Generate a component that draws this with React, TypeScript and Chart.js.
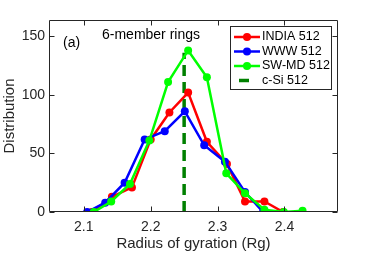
import React, { useEffect, useRef } from "react";
import { Chart, registerables } from "chart.js";
Chart.register(...registerables);

const xTicks = [2.1, 2.2, 2.3, 2.4];
const yTicks = [0, 50, 100, 150];

const indiaX = [2.112, 2.142, 2.172, 2.2, 2.228, 2.256, 2.284, 2.314, 2.341, 2.37, 2.398];
const indiaY = [0, 13, 21, 62, 85, 102, 60, 41, 9, 9, 0];
const wwwX = [2.105, 2.132, 2.161, 2.191, 2.221, 2.251, 2.28, 2.311, 2.341, 2.368];
const wwwY = [0, 8, 25, 62, 69, 86, 57, 43, 17, 0];
const swmdX = [2.115, 2.141, 2.169, 2.198, 2.226, 2.256, 2.284, 2.313, 2.341, 2.37, 2.399, 2.427];
const swmdY = [0, 9, 24, 61, 111, 138, 115, 33, 16, 2, 0, 1];
const csiX = [2.25, 2.25];
const csiY = [0, 136];

const seriesNames = ["INDIA 512", "WWW 512", "SW-MD 512", "c-Si 512"];
const seriesColors = ["#ff0000", "#0000ff", "#00ff00", "#008000"];
const titleText = "6-member rings";
const panelText = "(a)";
const xLabel = "Radius of gyration (Rg)";
const yLabel = "Distribution";

const FONT = "'Liberation Sans', Arial, Helvetica, sans-serif";
const AXC = "#262626";

const pts = (xs: number[], ys: number[]) => xs.map((x, i) => ({ x, y: ys[i] }));

const decor = {
  id: "decor",
  afterDraw(chart: any) {
    const ctx = chart.ctx;
    const a = chart.chartArea;
    const xs = chart.scales.x;
    const ys = chart.scales.y;
    const L = Math.round(a.left) + 0.5;
    const R = Math.round(a.right) - 0.5;
    const T = Math.round(a.top) + 0.5;
    const B = Math.round(a.bottom) - 0.5;
    ctx.save();
    ctx.strokeStyle = AXC;
    ctx.lineWidth = 1;
    ctx.beginPath();
    ctx.rect(L, T, R - L, B - T);
    const tl = 5;
    xTicks.forEach((v) => {
      const px = Math.round(xs.getPixelForValue(v)) + 0.5;
      ctx.moveTo(px, B);
      ctx.lineTo(px, B - tl);
      ctx.moveTo(px, T);
      ctx.lineTo(px, T + tl);
    });
    yTicks.forEach((v) => {
      const py = Math.round(ys.getPixelForValue(v)) + 0.5;
      ctx.moveTo(L, py);
      ctx.lineTo(L + tl, py);
      ctx.moveTo(R, py);
      ctx.lineTo(R - tl, py);
    });
    ctx.stroke();

    // texts
    ctx.fillStyle = AXC;
    ctx.textAlign = "center";
    ctx.textBaseline = "middle";
    ctx.font = `15px ${FONT}`;
    ctx.fillText(xLabel, (a.left + a.right) / 2, 244);
    ctx.save();
    ctx.translate(10, (a.top + a.bottom) / 2);
    ctx.rotate(-Math.PI / 2);
    ctx.fillText(yLabel, 0, 0);
    ctx.restore();

    ctx.fillStyle = "#000";
    ctx.font = `14px ${FONT}`;
    ctx.fillText(titleText, 151, 35);
    ctx.textAlign = "left";
    ctx.fillText(panelText, 63, 43);

    // legend
    const lx = 230.5, ly = 26.5, lw = 101, lh = 63;
    ctx.fillStyle = "#fff";
    ctx.fillRect(lx, ly, lw, lh);
    ctx.strokeStyle = "#262626";
    ctx.lineWidth = 1;
    ctx.strokeRect(lx, ly, lw, lh);
    const rows = [37, 51.5, 66, 80.5];
    ctx.font = `12.5px ${FONT}`;
    ctx.textBaseline = "middle";
    seriesNames.forEach((name, i) => {
      const y = rows[i];
      ctx.strokeStyle = seriesColors[i];
      if (i < 3) {
        ctx.lineWidth = 2.5;
        ctx.beginPath();
        ctx.moveTo(234, y);
        ctx.lineTo(260, y);
        ctx.stroke();
        ctx.fillStyle = seriesColors[i];
        ctx.beginPath();
        ctx.arc(247, y, 4, 0, Math.PI * 2);
        ctx.fill();
      } else {
        ctx.lineWidth = 3.5;
        ctx.beginPath();
        ctx.moveTo(239, y);
        ctx.lineTo(249, y);
        ctx.stroke();
      }
      ctx.fillStyle = "#000";
      ctx.fillText(name, 262, y);
    });
    ctx.restore();
  },
};

export default function App() {
  const ref = useRef<HTMLCanvasElement>(null);
  useEffect(() => {
    if (!ref.current) return;
    const lineDs = (i: number, data: any[], order: number) => ({
      label: seriesNames[i],
      data,
      borderColor: seriesColors[i],
      backgroundColor: seriesColors[i],
      pointBackgroundColor: seriesColors[i],
      pointBorderColor: seriesColors[i],
      borderWidth: 2.5,
      pointRadius: 4,
      pointBorderWidth: 0,
      tension: 0,
      showLine: true,
      order,
    });
    const chart = new Chart(ref.current, {
      type: "line",
      data: {
        datasets: [
          lineDs(0, pts(indiaX, indiaY), 3),
          lineDs(1, pts(wwwX, wwwY), 2),
          lineDs(2, pts(swmdX, swmdY), 1),
          {
            label: seriesNames[3],
            data: pts(csiX, csiY),
            borderColor: seriesColors[3],
            backgroundColor: seriesColors[3],
            borderWidth: 3.5,
            borderDash: [11, 6],
            pointRadius: 0,
            showLine: true,
            order: 4,
          } as any,
        ],
      },
      options: {
        responsive: false,
        animation: false,
        layout: { padding: { left: 0, right: 36, top: 20, bottom: 0 } },
        plugins: { legend: { display: false }, tooltip: { enabled: false } },
        scales: {
          x: {
            type: "linear",
            min: 2.048,
            max: 2.48,
            grid: { display: false, drawTicks: false },
            border: { display: false },
            afterBuildTicks: (s: any) => {
              s.ticks = xTicks.map((v) => ({ value: v }));
            },
            afterFit: (s: any) => {
              s.height = 41;
            },
            ticks: {
              padding: 7,
              color: AXC,
              font: { family: FONT, size: 14 },
              maxRotation: 0,
              callback: (v: any) => Number(v).toFixed(1),
            },
          },
          y: {
            type: "linear",
            min: 0,
            max: 164,
            grid: { display: false, drawTicks: false },
            border: { display: false },
            afterBuildTicks: (s: any) => {
              s.ticks = yTicks.map((v) => ({ value: v }));
            },
            afterFit: (s: any) => {
              s.width = 49;
            },
            ticks: {
              padding: 4,
              color: AXC,
              font: { family: FONT, size: 14 },
              callback: (v: any) => String(v),
            },
          },
        },
      },
      plugins: [decor],
    });
    return () => chart.destroy();
  }, []);
  return (
    <div style={{ position: "absolute", left: 0, top: 0, width: 374, height: 253, background: "#fff" }}>
      <canvas ref={ref} width={374} height={253} style={{ display: "block" }} />
    </div>
  );
}
